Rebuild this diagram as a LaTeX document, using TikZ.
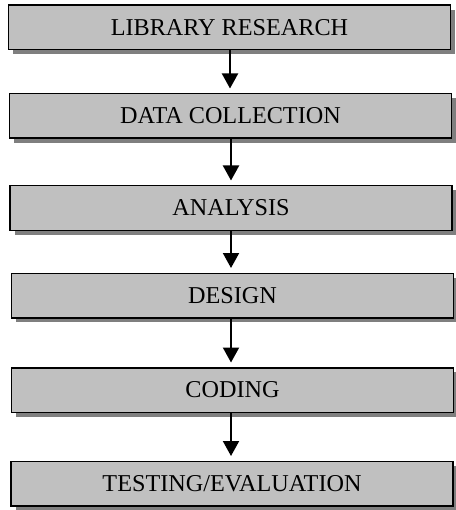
\documentclass[tikz,border=0pt]{standalone}
\usepackage{fontspec}
\setmainfont{Liberation Serif}
\usetikzlibrary{arrows.meta,shadows}
\definecolor{boxfill}{HTML}{C0C0C0}
\definecolor{shadowgray}{HTML}{7F7F7F}
\tikzset{
  stagebox/.style={draw=black, line width=1.5pt, fill=boxfill,
    minimum width=442pt, minimum height=44.5pt, inner sep=0pt,
    font=\fontsize{24.2}{27}\selectfont,
    drop shadow={shadow xshift=4.5pt, shadow yshift=-4.5pt, fill=shadowgray, opacity=1}},
  flowarrow/.style={line width=2pt, -{Triangle[width=16pt,length=15pt]}, shorten >=4.5pt}
}
\begin{document}
\begin{tikzpicture}[x=1pt,y=-1pt]
\useasboundingbox (0,0) rectangle (455,510);
\node[stagebox] (lib) at (229.5,27.5) {LIBRARY RESEARCH};
\node[stagebox] (data) at (230.5,116) {DATA COLLECTION};
\node[stagebox] (ana) at (231,208) {ANALYSIS};
\node[stagebox] (des) at (232.5,295.5) {DESIGN};
\node[stagebox] (cod) at (232.5,390) {CODING};
\node[stagebox] (test) at (232,483.5) {TESTING/EVALUATION};
\draw[flowarrow] ([xshift=0.5pt]lib.south) -- ([xshift=0.5pt]lib.south |- data.north);
\draw[flowarrow] ([xshift=0.5pt]data.south) -- ([xshift=0.5pt]data.south |- ana.north);
\draw[flowarrow] ([xshift=0pt]ana.south) -- ([xshift=0pt]ana.south |- des.north);
\draw[flowarrow] ([xshift=-1.5pt]des.south) -- ([xshift=-1.5pt]des.south |- cod.north);
\draw[flowarrow] ([xshift=-1.5pt]cod.south) -- ([xshift=-1.5pt]cod.south |- test.north);
\end{tikzpicture}
\end{document}
